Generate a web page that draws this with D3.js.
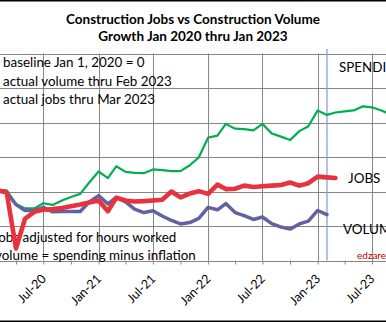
<!DOCTYPE html>
<html>
<head>
<meta charset="utf-8">
<script src="https://cdn.jsdelivr.net/npm/d3@7"></script>
<style>
  html, body { margin: 0; padding: 0; background: #fff; }
  svg { display: block; font-family: Lato, "Open Sans", sans-serif; }
</style>
</head>
<body>
<svg id="chart" width="386" height="322"></svg>
<script>
// Percent change since Jan 1, 2020, one value per month starting Jan 2020
const startMonth = new Date(2020, 0, 1);

const spending = [0, 0.5, 0.3, -3.6, -4.9, -4.9, -3.4, -3.9, -2.6, -1.6, -0.7, 2.6,
  5.8, 3.9, 7.3, 5.7, 5.4, 5.3, 6.4, 6.2, 5.9, 5.9, 7.6, 9.9,
  15.6, 16.2, 19.6, 18.2, 18.1, 17.7, 19.6, 16.8, 15.9, 14.9, 17.5, 18.9,
  23.5, 22.2, 22.9, 23.2, 23.5, 24.7, 24.4, 23.5, 22.3];

const jobs = [0, 0.3, -0.3, -16.5, -7.9, -5.9, -5.3, -5.1, -4.8, -4.3, -3.8, -3.2,
  -2.6, -5.7, -1.8, -2.6, -2.9, -2.8, -2.6, -2.4, 0, -1.7, -0.6, 0.1,
  -0.7, 2.0, 0.7, 0.8, 1.7, 1.3, 1.5, 1.7, 1.9, 2.6, 1.7, 2.4,
  4.3, 4.1, 3.9];

const volume = [0, 0.3, -0.3, -3.8, -5.5, -5.5, -4.6, -5.9, -5.8, -5.8, -5.8, -3.0,
  -1.2, -3.6, -1.7, -3.0, -5.1, -6.1, -5.6, -7.1, -8.4, -9.4, -9.0, -7.8,
  -4.6, -5.3, -3.5, -6.1, -7.0, -8.1, -7.4, -9.3, -10.3, -10.9, -9.4, -8.6,
  -5.5, -6.7];

const yTicks = [-20, -10, 0, 10, 20, 30, 40];
const tickLabelFormat = "%b-%y";

const titleLines = ["Construction Jobs vs Construction Volume", "Growth Jan 2020 thru Jan 2023"];
const notesTop = ["baseline Jan 1, 2020 = 0", "actual volume thru Feb 2023", "actual jobs thru Mar 2023"];
const notesBottom = ["jobs adjusted for hours worked", "volume = spending minus inflation"];
const dataCutoff = new Date(2023, 1, 1);

const monthDate = i => d3.timeMonth.offset(startMonth, i);
const toPoints = arr => arr.map((v, i) => ({ date: monthDate(i), value: v }));

const svg = d3.select("#chart");
const W = 386, H = 322;

// Plot area runs past both sides of the canvas
const plotTop = 53.5, plotBottom = 260.5, plotLeft = -40, plotRight = 430;

const x = d3.scaleTime()
  .domain([new Date(2020, 0, 1), new Date(2023, 6, 1)])
  .range([-11.3, 372]);
const y = d3.scaleLinear().domain([-20, 40]).range([plotBottom, plotTop]);

// Frame lines along the top and bottom edge
svg.append("rect").attr("x", 0).attr("y", 0).attr("width", W).attr("height", H).attr("fill", "#fff");
svg.append("line").attr("x1", 0).attr("x2", W).attr("y1", 0.75).attr("y2", 0.75)
  .attr("stroke", "#000").attr("stroke-width", 1.5);
svg.append("line").attr("x1", 0).attr("x2", W).attr("y1", 321.25).attr("y2", 321.25)
  .attr("stroke", "#000").attr("stroke-width", 1.5);

// Title
svg.append("g").selectAll("text").data(titleLines).join("text")
  .attr("x", 193).attr("y", (d, i) => 23.5 + i * 17)
  .attr("text-anchor", "middle")
  .attr("font-weight", "bold").attr("font-size", 13.5).attr("fill", "#000")
  .text(d => d);

// Horizontal gridlines
const grid = svg.append("g");
grid.selectAll("line.h").data(yTicks).join("line").attr("class", "h")
  .attr("x1", plotLeft).attr("x2", plotRight)
  .attr("y1", d => Math.round(y(d)) + 0.5).attr("y2", d => Math.round(y(d)) + 0.5)
  .attr("stroke", "#868686").attr("stroke-width", 1);

// Vertical gridlines at half-year marks
const labelDates = d3.timeMonth.every(6).range(new Date(2020, 6, 1), new Date(2023, 7, 1));
grid.selectAll("line.v").data(labelDates).join("line").attr("class", "v")
  .attr("x1", d => Math.round(x(d)) + 0.5).attr("x2", d => Math.round(x(d)) + 0.5)
  .attr("y1", plotTop).attr("y2", plotBottom)
  .attr("stroke", "#868686").attr("stroke-width", 1);

// X axis with quarterly ticks, labels every six months (only where they fit on the canvas)
const quarterDates = d3.timeMonth.every(3).range(new Date(2019, 9, 1), new Date(2024, 0, 1));
const xAxis = d3.axisBottom(x)
  .tickValues(quarterDates)
  .tickSize(4)
  .tickSizeOuter(0)
  .tickFormat(d => (d.getMonth() % 6 === 0 && x(d) > 0 ? d3.timeFormat(tickLabelFormat)(d) : ""));
const axisG = svg.append("g").attr("transform", `translate(0,${plotBottom})`).call(xAxis);
axisG.select(".domain").remove();
axisG.selectAll(".tick line").attr("stroke", "#868686");
axisG.selectAll(".tick text")
  .attr("font-family", "Lato, sans-serif").attr("font-size", 12.5).attr("fill", "#000")
  .attr("text-anchor", "end")
  .attr("transform", "translate(3,19) rotate(-45)")
  .attr("dy", 0).attr("y", 0).attr("x", 0);
svg.append("line").attr("x1", plotLeft).attr("x2", plotRight)
  .attr("y1", Math.round(plotBottom) + 0.5).attr("y2", Math.round(plotBottom) + 0.5)
  .attr("stroke", "#868686");

// Marker for the last month of actual volume data
svg.append("line")
  .attr("x1", x(dataCutoff)).attr("x2", x(dataCutoff))
  .attr("y1", 49).attr("y2", plotBottom)
  .attr("stroke", "#7f9ccc").attr("stroke-width", 1.2);

// Notes
const notes = svg.append("g").attr("font-size", 13.4).attr("fill", "#000");
notes.selectAll("text.top").data(notesTop).join("text").attr("class", "top")
  .attr("x", 3).attr("y", (d, i) => 67 + i * 18.5).text(d => d);
notes.selectAll("text.bot").data(notesBottom).join("text").attr("class", "bot")
  .attr("x", -5).attr("y", (d, i) => 241.5 + i * 18).text(d => d);

// Series lines
const line = d3.line().x(d => x(d.date)).y(d => y(d.value)).curve(d3.curveLinear);
const series = [
  { name: "SPENDING", data: spending, color: "#00b050", width: 2.2, lx: 339, ly: 72 },
  { name: "VOLUME", data: volume, color: "#6262a2", width: 3.5, lx: 343, ly: 234 },
  { name: "JOBS", data: jobs, color: "#e8323e", width: 4.6, lx: 348, ly: 183 }
];
svg.append("g").selectAll("path").data(series).join("path")
  .attr("d", d => line(toPoints(d.data)))
  .attr("fill", "none")
  .attr("stroke", d => d.color)
  .attr("stroke-width", d => d.width)
  .attr("stroke-linejoin", "round")
  .attr("stroke-linecap", "round");

svg.append("g").selectAll("text").data(series).join("text")
  .attr("x", d => d.lx).attr("y", d => d.ly)
  .attr("font-size", 13.4).attr("fill", "#000")
  .text(d => d.name);

svg.append("text").attr("x", 357).attr("y", 259)
  .attr("font-size", 10).attr("fill", "#c00000")
  .text("edzarenski.com");
</script>
</body>
</html>
